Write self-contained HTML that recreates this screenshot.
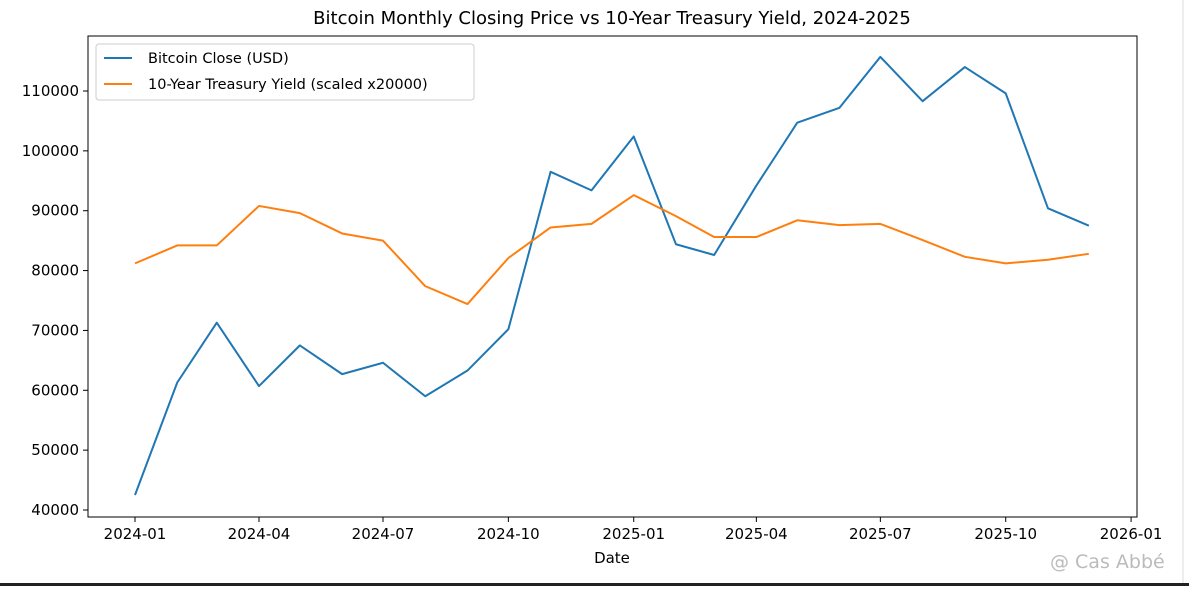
<!DOCTYPE html>
<html><head><meta charset="utf-8"><style>
body{margin:0;background:#fff;width:1189px;height:586px;overflow:hidden;font-family:"DejaVu Sans","Liberation Sans",sans-serif}
</style></head><body>
<svg id="chart" width="1189" height="586" xmlns="http://www.w3.org/2000/svg" font-family="DejaVu Sans, Liberation Sans, sans-serif">
<rect x="0" y="0" width="1189" height="586" fill="#fff"/>
<line x1="1183" y1="0" x2="1183" y2="586" stroke="#ddd" stroke-width="1"/>
<rect x="0" y="583" width="1189" height="3" fill="#222"/>
<text x="612" y="24" text-anchor="middle" font-size="18">Bitcoin Monthly Closing Price vs 10-Year Treasury Yield, 2024-2025</text>
<g id="axes"></g>
<g id="series"></g>
<rect x="88" y="36" width="1049" height="481" fill="none" stroke="#000" stroke-width="1"/>
<g>
<rect x="96" y="44" width="378" height="56" rx="3" fill="#fff" stroke="#ccc"/>
<line x1="104" y1="58" x2="132" y2="58" stroke="#1f77b4" stroke-width="2"/>
<text x="148" y="63" font-size="14.5">Bitcoin Close (USD)</text>
<line x1="104" y1="84" x2="132" y2="84" stroke="#ff7f0e" stroke-width="2"/>
<text x="148" y="89" font-size="14.5">10-Year Treasury Yield (scaled x20000)</text>
</g>
<text x="612" y="563" text-anchor="middle" font-size="15">Date</text>
<text x="1050" y="568" font-size="19" fill="#bbb">@ Cas Abbé</text>
</svg>
<script>
const months=["2024-01","2024-02","2024-03","2024-04","2024-05","2024-06","2024-07","2024-08","2024-09","2024-10","2024-11","2024-12","2025-01","2025-02","2025-03","2025-04","2025-05","2025-06","2025-07","2025-08","2025-09","2025-10","2025-11","2025-12"];
const bitcoin=[42500,61300,71300,60700,67500,62700,64600,59000,63300,70200,96500,93400,102400,84400,82600,94200,104700,107200,115700,108300,114000,109600,90400,87500];
const yieldScaled=[81200,84200,84200,90800,89600,86200,85000,77400,74400,82100,87200,87800,92600,89100,85600,85600,88400,87600,87800,85100,82300,81200,81800,82800];
const yTicks=[40000,50000,60000,70000,80000,90000,100000,110000];
const xTicks=["2024-01","2024-04","2024-07","2024-10","2025-01","2025-04","2025-07","2025-10","2026-01"];
const NS="http://www.w3.org/2000/svg";
const d0=Date.UTC(2024,0,1), pxPerDay=124/91;
function xs(m){const [y,mo]=m.split("-").map(Number);return 135+(Date.UTC(y,mo-1,1)-d0)/86400000*pxPerDay;}
function ys(v){return 510-(v-40000)*419/70000;}
const axes=document.getElementById("axes"), ser=document.getElementById("series");
yTicks.forEach(t=>{
 const l=document.createElementNS(NS,"line");
 
 
 l.setAttribute("x1",83);l.setAttribute("x2",88);l.setAttribute("y1",ys(t));l.setAttribute("y2",ys(t));l.setAttribute("stroke","#000");
 axes.appendChild(l);
 const tx=document.createElementNS(NS,"text");
 
 
 tx.setAttribute("x",79);tx.setAttribute("y",ys(t)+5);tx.setAttribute("text-anchor","end");tx.setAttribute("font-size","15");
 tx.textContent=t;axes.appendChild(tx);
});
xTicks.forEach(t=>{
 const x=xs(t);
 const l=document.createElementNS(NS,"line");
 
 
 l.setAttribute("x1",x);l.setAttribute("x2",x);l.setAttribute("y1",517);l.setAttribute("y2",522);l.setAttribute("stroke","#000");
 axes.appendChild(l);
 const tx=document.createElementNS(NS,"text");
 
 
 tx.setAttribute("x",x);tx.setAttribute("y",539);tx.setAttribute("text-anchor","middle");tx.setAttribute("font-size","15");
 tx.textContent=t;axes.appendChild(tx);
});
function line(vals,color,name){
 const p=document.createElementNS(NS,"polyline");
 
 
 p.setAttribute("points",vals.map((v,i)=>xs(months[i])+","+ys(v)).join(" "));
 p.setAttribute("fill","none");p.setAttribute("stroke",color);p.setAttribute("stroke-width","2");p.setAttribute("stroke-linejoin","round");
 ser.appendChild(p);
}
line(bitcoin,"#1f77b4","bitcoin-line");
line(yieldScaled,"#ff7f0e","yield-line");
</script>
</body></html>
